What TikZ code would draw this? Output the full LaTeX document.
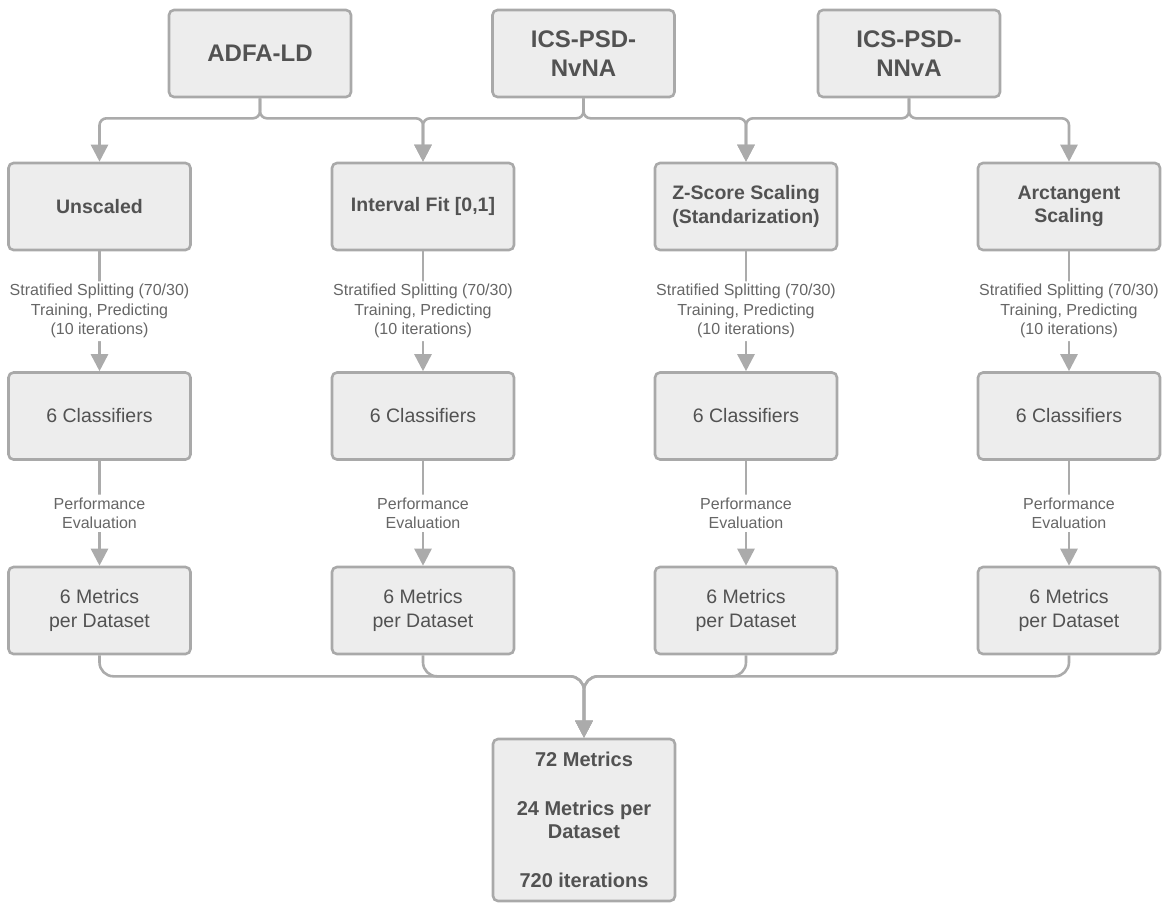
\documentclass[tikz,border=0pt]{standalone}
\usepackage{fontspec}
\setmainfont{Liberation Sans}
\usetikzlibrary{arrows.meta,calc}
\definecolor{boxfill}{HTML}{EDEDED}
\definecolor{boxline}{HTML}{A9A9A9}
\definecolor{wirecol}{HTML}{ABABAB}
\definecolor{ink}{HTML}{525252}
\definecolor{labelink}{HTML}{666666}

\begin{document}
\begin{tikzpicture}[x=1pt,y=-1pt,
  box/.style={draw=boxline, fill=boxfill, line width=2.6pt, rounded corners=5pt,
    minimum width=182pt, minimum height=87pt, align=center, text=ink, inner sep=2pt},
  dataset/.style={box, font=\fontsize{24}{29}\selectfont\bfseries},
  scaling/.style={box, font=\fontsize{19.5}{23.5}\selectfont\bfseries},
  plainbox/.style={box, font=\fontsize{19.5}{24.5}\selectfont},
  resultbox/.style={box, minimum height=162pt, font=\fontsize{20}{23}\selectfont\bfseries},
  wire/.style={draw=wirecol, line width=2.6pt, rounded corners=7pt,
    -{Triangle[width=17pt,length=17pt]}},
  mergewire/.style={wire, rounded corners=14pt},
  steplabel/.style={fill=white, text=labelink, align=center, inner sep=3pt,
    font=\fontsize{16}{19.5}\selectfont},
]
\useasboundingbox (0,0) rectangle (1166,903);

% datasets
\node[dataset] (adfa) at (260,53.5) {ADFA-LD};
\node[dataset] (nvna) at (583.5,53.5) {ICS-PSD-\\NvNA};
\node[dataset] (nnva) at (909,53.5) {ICS-PSD-\\NNvA};

% scaling methods
\node[scaling] (s1) at (99.5,206.5) {Unscaled};
\node[scaling] (s2) at (423,206.5) {Interval Fit [0,1]};
\node[scaling] (s3) at (746,206.5) {Z-Score Scaling\\(Standarization)};
\node[scaling] (s4) at (1069,206.5) {Arctangent\\Scaling};

% classifiers and metrics per scaling
\foreach \i/\x in {1/99.5,2/423,3/746,4/1069}{
  \node[plainbox] (c\i) at (\x,416) {6 Classifiers};
  \node[plainbox] (m\i) at (\x,610.5) {6 Metrics\\per Dataset};
}

% overall result
\node[resultbox] (fin) at (584,820)
  {72 Metrics\\[26pt]24 Metrics per\\Dataset\\[26pt]720 iterations};

% datasets into scalings
\draw[wire] (adfa.south) -- ++(0,20) -| (s1.north);
\draw[wire] (adfa.south) -- ++(0,20) -| (s2.north);
\draw[wire] (nvna.south) -- ++(0,20) -| (s2.north);
\draw[wire] (nvna.south) -- ++(0,20) -| (s3.north);
\draw[wire] (nnva.south) -- ++(0,20) -| (s3.north);
\draw[wire] (nnva.south) -- ++(0,20) -| (s4.north);

% per-column pipeline
\foreach \i in {1,...,4}{
  \draw[wire] (s\i.south) -- node[steplabel]
    {Stratified Splitting (70/30)\\Training, Predicting\\(10 iterations)} (c\i.north);
  \draw[wire] (c\i.south) -- node[steplabel] {Performance\\Evaluation} (m\i.north);
  \draw[mergewire] (m\i.south) -- ++(0,21) -| (fin.north);
}
\end{tikzpicture}
\end{document}
